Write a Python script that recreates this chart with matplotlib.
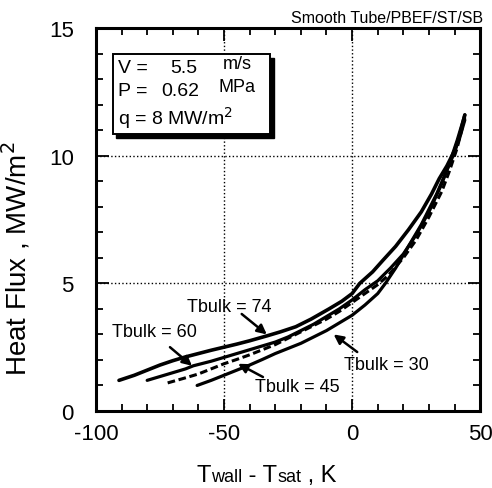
import matplotlib
matplotlib.use("Agg")
import matplotlib.pyplot as plt
from matplotlib.patches import Rectangle
from matplotlib.ticker import MultipleLocator

plt.rcParams["font.family"] = ["Liberation Sans", "DejaVu Sans"]
plt.rcParams["axes.unicode_minus"] = False

# curves: (Twall - Tsat [K], heat flux [MW/m2])
x74 = [-91, -85, -80, -75, -70, -65, -60, -55, -50, -45, -40, -33, -28, -22,
       -16, -9, -4, 0, 3, 8, 12, 17, 22, 27, 31, 34, 37, 40, 42, 44]
y74 = [1.2, 1.4, 1.6, 1.8, 1.97, 2.12, 2.25, 2.38, 2.5, 2.62, 2.75, 2.95, 3.1,
       3.3, 3.6, 4.0, 4.3, 4.6, 5.0, 5.45, 5.9, 6.45, 7.1, 7.8, 8.5, 9.1, 9.6,
       10.2, 10.8, 11.6]

x60 = [-80, -75, -70, -65, -62, -55, -50, -45, -40, -35, -30, -25, -20, -15,
       -10, -5, 0, 5, 10, 15, 20, 25, 30, 35, 38, 41, 44]
y60 = [1.2, 1.35, 1.5, 1.65, 1.77, 1.95, 2.1, 2.25, 2.4, 2.55, 2.7, 2.9, 3.15,
       3.4, 3.7, 4.0, 4.35, 4.75, 5.1, 5.6, 6.15, 6.9, 7.8, 8.9, 9.7, 10.6, 11.6]

x45 = [-72, -65, -60, -55, -50, -45, -40, -35, -30, -25, -20, -15, -10, -5,
       0, 5, 10, 14, 20, 25, 30, 35, 38, 41, 44]
y45 = [1.1, 1.3, 1.45, 1.65, 1.85, 2.02, 2.2, 2.4, 2.6, 2.85, 3.1, 3.35, 3.6,
       3.9, 4.25, 4.6, 4.95, 5.3, 6.0, 6.7, 7.6, 8.6, 9.4, 10.3, 11.5]

x30 = [-60.5, -55, -50, -45, -40, -35, -30, -25, -20, -15, -10, -5, 0, 5, 10,
       13, 17, 22, 27, 30, 33, 36, 39, 42, 44]
y30 = [1.0, 1.2, 1.4, 1.6, 1.8, 2.02, 2.25, 2.45, 2.65, 2.9, 3.15, 3.45, 3.75,
       4.15, 4.6, 5.0, 5.6, 6.45, 7.3, 7.9, 8.5, 9.2, 9.9, 10.7, 11.4]

# labels: text, text position, arrow tail, arrow tip
labels = ["Tbulk = 74", "Tbulk = 60", "Tbulk = 45", "Tbulk = 30"]
label_xy = [(-48, 4.1), (-77, 3.13), (-21.5, 0.94), (13.5, 1.84)]
tail_xy = [(-43.1, 3.8), (-71.1, 2.5), (-34.8, 1.33), (2.0, 2.31)]
tip_xy = [(-33.3, 3.0), (-62.5, 1.77), (-44.5, 1.85), (-7.2, 3.0)]

# x label: large "T", smaller words on the same baseline
xlabel_parts = ["T", "wall", " - T", "sat", " , K"]
xlabel_sizes = [17, 13, 17, 13, 17]

fig = plt.figure(figsize=(4.92, 4.89), dpi=100)
ax = fig.add_axes([0.195, 0.1575, 0.781, 0.783])

ax.plot(x74, y74, color="black", lw=2.6, solid_capstyle="round")
ax.plot(x60, y60, color="black", lw=2.3, solid_capstyle="round")
ax.plot(x45, y45, color="black", lw=2.2, ls=(0, (2.5, 1.2)))
ax.plot(x30, y30, color="black", lw=2.3, solid_capstyle="round")

for txt, pos, tail, tip in zip(labels, label_xy, tail_xy, tip_xy):
    ax.text(pos[0], pos[1], txt, fontsize=13, ha="center", va="center")
    ax.annotate("", xy=tip, xytext=tail,
                arrowprops=dict(arrowstyle="-|>", color="black", lw=1.8,
                                mutation_scale=14, shrinkA=0, shrinkB=0))

# condition box with drop shadow
ax.add_patch(Rectangle((-92.0, 10.7), 61.5, 3.14, facecolor="black",
                       edgecolor="black", zorder=4))
ax.add_patch(Rectangle((-93.5, 10.85), 61.5, 3.14, facecolor="white",
                       edgecolor="black", lw=1.4, zorder=5))
ax.text(-91.5, 13.45, "V =", fontsize=14, va="center", zorder=6)
ax.text(-71.0, 13.45, "5.5", fontsize=14, va="center", zorder=6)
ax.text(-50.5, 13.6, "m/s", fontsize=13, va="center", zorder=6)
ax.text(-91.5, 12.55, "P =", fontsize=14, va="center", zorder=6)
ax.text(-74.5, 12.55, "0.62", fontsize=14, va="center", zorder=6)
ax.text(-52.0, 12.7, "MPa", fontsize=13, va="center", zorder=6)
ax.text(-91.5, 11.5, "q = 8 MW/m$^2$", fontsize=14, va="center", zorder=6)

ax.set_xlim(-100, 50)
ax.set_ylim(0, 15)
ax.xaxis.set_major_locator(MultipleLocator(50))
ax.xaxis.set_minor_locator(MultipleLocator(10))
ax.yaxis.set_major_locator(MultipleLocator(5))
ax.yaxis.set_minor_locator(MultipleLocator(1))
ax.tick_params(which="both", direction="in", top=True, right=True,
               labelsize=16, width=1.3)
ax.tick_params(which="major", length=9)
ax.tick_params(which="minor", length=5)
ax.tick_params(axis="x", which="major", pad=9)
ax.tick_params(axis="y", which="major", pad=16)
ax.grid(True, which="major", color="black", ls=":", lw=1.0)
for s in ax.spines.values():
    s.set_linewidth(2.2)

ax.set_ylabel("Heat Flux , MW/m$^2$", fontsize=20)
ax.yaxis.set_label_coords(-0.165, 0.40)
fig.text(0.982, 0.963, "Smooth Tube/PBEF/ST/SB", fontsize=11.5, ha="right",
         va="center")

# place x-label pieces one after another on a common baseline
fig.canvas.draw()
renderer = fig.canvas.get_renderer()
x_px = 0.400 * fig.bbox.width
for part, size in zip(xlabel_parts, xlabel_sizes):
    t = fig.text(x_px / fig.bbox.width, 0.014, part, fontsize=size,
                 va="baseline", ha="left")
    x_px += t.get_window_extent(renderer).width

fig.savefig("out.png", dpi=100)
